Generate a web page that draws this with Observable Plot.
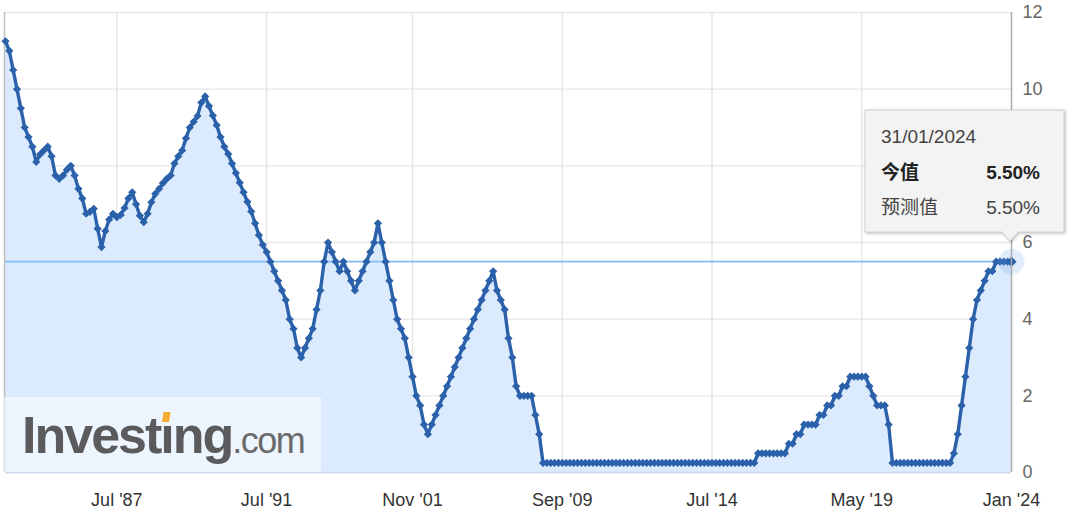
<!DOCTYPE html>
<html>
<head>
<meta charset="utf-8">
<script src="https://cdn.jsdelivr.net/npm/d3@7"></script>
<script src="https://cdn.jsdelivr.net/npm/@observablehq/plot@0.6"></script>
<style>
  html, body { margin: 0; padding: 0; background: #fff; }
  #chart { width: 1080px; height: 519px; position: relative; }
</style>
</head>
<body>
<div id="chart"></div>
<script>
// Federal funds rate, one value per release (ordinal positions)
const values = [
  11.25, 11.0, 10.5, 10.0, 9.5, 9.0, 8.75, 8.5, 8.1, 8.3,
  8.4, 8.5, 8.25, 7.75, 7.66, 7.75, 7.9, 8.0, 7.75, 7.4,
  7.15, 6.75, 6.8, 6.88, 6.36, 5.88, 6.3, 6.6, 6.75, 6.66,
  6.72, 6.9, 7.15, 7.31, 7.0, 6.7, 6.53, 6.75, 7.05, 7.27,
  7.4, 7.55, 7.66, 7.75, 8.06, 8.25, 8.4, 8.72, 9.0, 9.15,
  9.3, 9.65, 9.81, 9.56, 9.31, 9.06, 8.75, 8.5, 8.31, 8.06,
  7.81, 7.56, 7.31, 7.06, 6.81, 6.5, 6.19, 5.94, 5.75,
  5.5, 5.25, 5.0, 4.75, 4.5, 4.0, 3.75, 3.25, 3.0,
  3.25, 3.5, 3.75, 4.25, 4.75, 5.5,
  6.0, 5.75, 5.5, 5.25, 5.5,
  5.25, 5.0, 4.75,
  5.0, 5.25, 5.5, 5.75, 6.0, 6.5,
  6.0, 5.5, 5.0, 4.5, 4.0, 3.75, 3.5, 3.0, 2.5,
  2.0, 1.75, 1.25, 1.0,
  1.25, 1.5, 1.75, 2.0, 2.25, 2.5, 2.75, 3.0, 3.25, 3.5, 3.75, 4.0, 4.25, 4.5, 4.75, 5.0, 5.25,
  4.75, 4.5, 4.25,
  3.5, 3.0, 2.25, 2.0, 2.0, 2.0, 2.0, 1.5, 1.0, 0.25,
  0.25, 0.25, 0.25, 0.25, 0.25, 0.25, 0.25, 0.25, 0.25, 0.25,
  0.25, 0.25, 0.25, 0.25, 0.25, 0.25, 0.25, 0.25, 0.25, 0.25,
  0.25, 0.25, 0.25, 0.25, 0.25, 0.25, 0.25, 0.25, 0.25, 0.25,
  0.25, 0.25, 0.25, 0.25, 0.25, 0.25, 0.25, 0.25, 0.25, 0.25,
  0.25, 0.25, 0.25, 0.25, 0.25, 0.25, 0.25, 0.25, 0.25, 0.25,
  0.25, 0.25, 0.25, 0.25, 0.25,
  0.5,
  0.5, 0.5, 0.5, 0.5, 0.5, 0.5, 0.5, 0.75,
  0.75, 1.0, 1.0, 1.25, 1.25, 1.25, 1.25, 1.5,
  1.5, 1.75, 1.75, 2.0, 2.0, 2.25, 2.25, 2.5,
  2.5, 2.5, 2.5, 2.5, 2.25, 2.0, 1.75, 1.75,
  1.75, 1.25, 0.25, 0.25, 0.25, 0.25, 0.25, 0.25, 0.25,
  0.25, 0.25, 0.25, 0.25, 0.25, 0.25, 0.25, 0.25,
  0.25, 0.5, 1.0, 1.75, 2.5, 3.25, 4.0, 4.5,
  4.75, 5.0, 5.25, 5.25, 5.5, 5.5, 5.5, 5.5,
  5.5
];
const tickIdx = [29, 68, 106, 145, 184, 223, 262];
const tickLabels = ["Jul '87", "Jul '91", "Nov '01", "Sep '09", "Jul '14", "May '19", "Jan '24"];
const yTicks = [0, 2, 4, 6, 8, 10, 12];
const tipDate = "31/01/2024";
const tipRows = [
  { name: "今值", value: "5.50%", bold: true },
  { name: "预测值", value: "5.50%", bold: false }
];

const data = values.map((v, i) => ({ i, v }));
const last = data[data.length - 1];
const LINE = "#2a61aa";

const chart = Plot.plot({
  width: 1080,
  height: 519,
  marginLeft: 5,
  marginRight: 69,
  marginTop: 12,
  marginBottom: 47,
  x: { domain: [0, values.length - 1] },
  y: { domain: [0, 12] },
  style: { fontFamily: "'Liberation Sans', Arial, sans-serif", background: "#fff" },
  marks: [
    Plot.ruleY(yTicks, { stroke: "#e6e6e6", strokeWidth: 1.4 }),
    Plot.ruleX(tickIdx, { stroke: "#e6e6e6", strokeWidth: 1.4 }),
    Plot.areaY(data, { x: "i", y: "v", fill: "#dbeafc" }),
    Plot.ruleY([0], { stroke: "#ccd6eb", strokeWidth: 1.4 }),
    Plot.ruleX([0], { stroke: "#bdbdbd", strokeWidth: 1.4, dx: -1 }),
    Plot.ruleY([last.v], { stroke: "#86bcf4", strokeWidth: 1.6 }),
    Plot.lineY(data, { x: "i", y: "v", stroke: LINE, strokeWidth: 3.4, strokeLinejoin: "round" }),
    Plot.dot(data, { x: "i", y: "v", symbol: "diamond2", r: 3.7, fill: LINE }),
    Plot.dot([last], { x: "i", y: "v", r: 13, fill: "#5b9ae6", fillOpacity: 0.18 }),
    Plot.dot([last], { x: "i", y: "v", symbol: "diamond2", r: 4.6, fill: LINE }),
    Plot.ruleX([values.length - 1], { stroke: "#aaaaaa", strokeWidth: 1.4 }),
    Plot.axisY({ anchor: "right", ticks: yTicks, tickSize: 0, tickPadding: 11, fontSize: 18, color: "#666", label: null }),
    Plot.axisX({ ticks: tickIdx, tickFormat: d => tickLabels[tickIdx.indexOf(d)], tickSize: 0, tickPadding: 21, fontSize: 18, color: "#333", label: null })
  ]
});
document.getElementById("chart").appendChild(chart);

const svg = d3.select(chart);

// Investing.com watermark
svg.append("rect").attr("x", 4).attr("y", 397).attr("width", 317).attr("height", 75)
  .attr("fill", "#fff").attr("fill-opacity", 0.5);
const logo = svg.append("text").attr("x", 22).attr("y", 453).attr("text-anchor", "start")
  .style("font-family", "'Liberation Sans', Arial, sans-serif");
logo.append("tspan").text("Investıng").attr("font-weight", "bold").attr("font-size", 52)
  .attr("letter-spacing", -2).attr("fill", "#5b5b5d");
logo.append("tspan").text(".com").attr("font-size", 36).attr("letter-spacing", -1.5)
  .attr("fill", "#6a6a6a");
try {
  const ext = logo.node().getExtentOfChar(6);
  const cx = ext.x + ext.width / 2 - 1;
  svg.append("path")
    .attr("d", `M${cx - 3.5},422 L${cx + 3.5},422 L${cx + 5},412 L${cx - 2},412 Z`)
    .attr("fill", "#f5ac2f");
} catch (e) {}

// Tooltip callout
const tip = svg.append("g").attr("text-anchor", "start")
  .style("font-family", "'Liberation Sans', 'Noto Sans CJK SC', Arial, sans-serif");
tip.append("path")
  .attr("d", "M865,110 H1064 V232 H1018 L1010,241 L1002,232 H865 Z")
  .attr("fill", "#f3f3f3").attr("stroke", "#d2d2d2").attr("stroke-width", 1)
  .style("filter", "drop-shadow(1px 1px 1.5px rgba(0,0,0,0.25))");
tip.append("text").attr("x", 881).attr("y", 142.5).attr("font-size", 19).attr("fill", "#444")
  .attr("text-anchor", "start").text(tipDate);
tipRows.forEach((r, k) => {
  const y = 178.5 + k * 35;
  tip.append("text").attr("x", 881).attr("y", y).attr("font-size", 19).attr("text-anchor", "start")
    .attr("font-weight", r.bold ? "bold" : "normal").attr("fill", r.bold ? "#222" : "#444")
    .style("font-family", "'Noto Sans CJK SC', sans-serif").text(r.name);
  tip.append("text").attr("x", 1040).attr("y", y).attr("font-size", 19).attr("text-anchor", "end")
    .attr("font-weight", r.bold ? "bold" : "normal").attr("fill", r.bold ? "#222" : "#444").text(r.value);
});
</script>
</body>
</html>
